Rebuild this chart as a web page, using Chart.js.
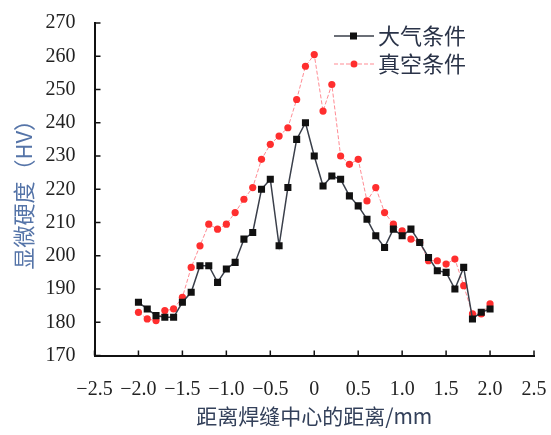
<!DOCTYPE html>
<html>
<head>
<meta charset="utf-8">
<script src="https://cdn.jsdelivr.net/npm/chart.js@4.4.0/dist/chart.umd.min.js"></script>
<style>
  html, body { margin: 0; padding: 0; background: #fff; }
</style>
</head>
<body>
<canvas id="hardnessChart" width="551" height="435"></canvas>
<script>
// distance from weld centre (mm)
const distance = [-2.0, -1.9, -1.8, -1.7, -1.6, -1.5, -1.4, -1.3, -1.2, -1.1, -1.0,
                  -0.9, -0.8, -0.7, -0.6, -0.5, -0.4, -0.3, -0.2, -0.1, 0.0,
                   0.1, 0.2, 0.3, 0.4, 0.5, 0.6, 0.7, 0.8, 0.9, 1.0,
                   1.1, 1.2, 1.3, 1.4, 1.5, 1.6, 1.7, 1.8, 1.9, 2.0];

// microhardness HV, atmosphere
const hvAir = [186, 184, 182, 181.5, 181.5, 186, 189, 197, 197, 192, 196,
               198, 205, 207, 220, 223, 203, 220.5, 235, 240, 230,
               221, 224, 223, 218, 215, 211, 206, 202.5, 208, 206,
               208, 204, 199.5, 195.5, 195, 190, 196.5, 181, 183, 184];

// microhardness HV, vacuum
const hvVacuum = [183, 181, 180.5, 183.5, 184, 187.5, 196.5, 203, 209.5, 208, 209.5,
                  213, 217, 220.5, 229, 233.5, 236, 238.5, 247, 257, 260.5,
                  243.5, 251.5, 230, 227.5, 229, 216.5, 220.5, 213, 209.5, 207.5,
                  205, 204, 198.5, 198.5, 197.5, 199, 191, 182.5, 182.5, 185.5];

const seriesNames = ['大气条件', '真空条件'];

const ctx = document.getElementById('hardnessChart').getContext('2d');

// small ticks pointing into the plot, like the original figure
const innerTicks = {
  id: 'innerTicks',
  afterDraw(chart) {
    const c = chart.ctx;
    const area = chart.chartArea;
    const x = chart.scales.x, y = chart.scales.y;
    c.save();
    c.strokeStyle = '#111';
    c.lineWidth = 1.5;
    x.ticks.forEach(t => {
      const px = x.getPixelForValue(t.value);
      c.beginPath(); c.moveTo(px, area.bottom); c.lineTo(px, area.bottom - 5); c.stroke();
    });
    y.ticks.forEach(t => {
      const py = y.getPixelForValue(t.value);
      c.beginPath(); c.moveTo(area.left, py); c.lineTo(area.left + 6, py); c.stroke();
    });
    c.restore();
  }
};

// legend in the upper right corner: line + marker + name
const cornerLegend = {
  id: 'cornerLegend',
  afterDraw(chart) {
    const c = chart.ctx;
    chart.data.datasets.forEach((ds, i) => {
      const yy = 36 + i * 28;
      c.save();
      c.strokeStyle = ds.borderColor;
      c.lineWidth = ds.borderWidth;
      c.setLineDash(ds.borderDash || []);
      c.beginPath(); c.moveTo(334, yy); c.lineTo(374, yy); c.stroke();
      c.setLineDash([]);
      c.fillStyle = ds.pointBackgroundColor;
      if (ds.pointStyle === 'rect') {
        c.fillRect(350, yy - 3.5, 7, 7);
      } else {
        c.beginPath(); c.arc(354, yy, 3.5, 0, Math.PI * 2); c.fill();
      }
      c.fillStyle = '#2a3348';
      c.font = '22px "Noto Sans CJK SC"';
      c.textBaseline = 'middle';
      c.fillText(ds.label, 378, yy);
      c.restore();
    });
  }
};

const fmtTick = v => {
  if (Math.abs(v) < 1e-9) return '0';
  return (v < 0 ? '\u2212' : '') + Math.abs(v).toFixed(1);
};

const hardnessChart = new Chart(ctx, {
  type: 'line',
  data: {
    datasets: [{
      label: seriesNames[0],
      data: distance.map((d, i) => ({ x: d, y: hvAir[i] })),
      borderColor: '#3a3f4a',
      borderWidth: 1.5,
      pointStyle: 'rect',
      pointRadius: 5,
      pointBorderWidth: 0,
      pointBackgroundColor: '#111',
      tension: 0
    }, {
      label: seriesNames[1],
      data: distance.map((d, i) => ({ x: d, y: hvVacuum[i] })),
      borderColor: 'rgba(255, 110, 120, 0.8)',
      borderWidth: 1,
      borderDash: [4, 2],
      pointStyle: 'circle',
      pointRadius: 3.6,
      pointBorderWidth: 0,
      pointBackgroundColor: '#ff2e2e',
      tension: 0
    }]
  },
  options: {
    responsive: false,
    animation: false,
    layout: { padding: { top: 17, right: 0, bottom: 0, left: 0 } },
    plugins: {
      legend: { display: false },
      tooltip: { enabled: false }
    },
    scales: {
      x: {
        type: 'linear',
        min: -2.5,
        max: 2.5,
        grid: { display: false },
        border: { display: true, color: '#111', width: 2 },
        ticks: {
          stepSize: 0.5,
          padding: 14,
          color: '#222',
          maxRotation: 0,
          font: { family: '"Liberation Serif"', size: 20 },
          callback: v => fmtTick(v)
        },
        title: {
          display: true,
          text: '距离焊缝中心的距离/mm',
          color: '#33405a',
          font: { family: '"Noto Sans CJK SC"', size: 21 },
          padding: { top: 0, bottom: 6 }
        },
        afterFit(scale) {
          scale.height = 79.5;
          scale.paddingRight = 17;
          scale.paddingLeft = 0;
        }
      },
      y: {
        min: 170,
        max: 270,
        grid: { display: false },
        border: { display: true, color: '#111', width: 2 },
        ticks: {
          stepSize: 10,
          padding: 11,
          color: '#222',
          font: { family: '"Liberation Serif"', size: 20 }
        },
        title: {
          display: true,
          text: '显微硬度（HV）',
          color: '#5574a8',
          font: { family: '"Noto Sans CJK SC"', size: 22 },
          padding: { top: 10, bottom: 0 }
        },
        afterFit(scale) { scale.width = 94.5; }
      }
    }
  },
  plugins: [innerTicks, cornerLegend]
});
</script>
</body>
</html>
